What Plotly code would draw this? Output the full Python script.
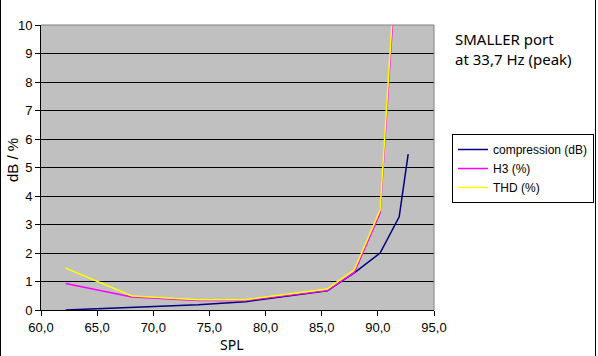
import plotly.graph_objects as go

# Data
spl_comp = [62.2, 68.1, 74.0, 78.2, 85.5, 87.9, 90.2, 91.9, 92.7]
compression_db = [0.0, 0.10, 0.18, 0.29, 0.67, 1.30, 2.00, 3.27, 5.47]

spl_h3 = [62.2, 68.1, 74.0, 78.2, 85.5, 87.9, 90.2, 91.5]
h3_pct = [0.93, 0.46, 0.33, 0.33, 0.68, 1.32, 3.40, 11.2]

spl_thd = [62.2, 68.1, 74.0, 78.2, 85.5, 87.9, 90.2, 91.5]
thd_pct = [1.47, 0.49, 0.36, 0.36, 0.74, 1.41, 3.51, 11.6]

x_ticks = [60, 65, 70, 75, 80, 85, 90, 95]
y_ticks = list(range(0, 11))

fig = go.Figure()
fig.add_trace(go.Scatter(x=spl_comp, y=compression_db, mode="lines",
                         name="compression (dB)", line=dict(color="#000080", width=1.5)))
fig.add_trace(go.Scatter(x=spl_h3, y=h3_pct, mode="lines",
                         name="H3 (%)", line=dict(color="#FF00FF", width=1.5)))
fig.add_trace(go.Scatter(x=spl_thd, y=thd_pct, mode="lines",
                         name="THD (%)", line=dict(color="#FFFF00", width=1.5)))

W, H = 598, 356
L, R, T, B = 41, 164, 25, 46
pw, ph = W - L - R, H - T - B

def px_x(px):
    return (px - L) / pw

def px_y(py):
    return (H - B - py) / ph

fig.update_layout(
    width=W, height=H,
    margin=dict(l=L, r=R, t=T, b=B, pad=0, autoexpand=False),
    paper_bgcolor="white",
    plot_bgcolor="#C0C0C0",
    separators=",.",
    font=dict(family="Liberation Sans, Arial, sans-serif", size=12, color="black"),
    showlegend=True,
    legend=dict(
        x=px_x(452), y=px_y(134), xanchor="left", yanchor="top",
        bgcolor="white", bordercolor="black", borderwidth=1,
        font=dict(family="Liberation Sans, Arial, sans-serif", size=12),
        itemwidth=30, tracegroupgap=0,
    ),
    xaxis=dict(
        range=[60, 95], tickvals=x_ticks, tickformat=".1f",
        showgrid=False, zeroline=False, automargin=False,
        showline=True, linecolor="black", linewidth=1,
        ticks="outside", ticklen=5, tickcolor="black",
        tickfont=dict(size=13),
    ),
    yaxis=dict(
        range=[0, 10], tickvals=y_ticks,
        showgrid=True, gridcolor="black", gridwidth=1,
        zeroline=False, automargin=False,
        showline=True, linecolor="black", linewidth=1,
        ticks="outside", ticklen=5, tickcolor="black",
        tickfont=dict(size=13),
    ),
    annotations=[
        dict(text="SMALLER port<br>at 33,7 Hz (peak)", xref="paper", yref="paper",
             x=px_x(453), y=px_y(27), xanchor="left", yanchor="top", align="left",
             showarrow=False,
             font=dict(family="Noto Sans, sans-serif", size=15, color="black")),
        dict(text="SPL", xref="paper", yref="paper",
             x=px_x(232), y=px_y(344), xanchor="center", yanchor="middle",
             showarrow=False,
             font=dict(family="Noto Sans, sans-serif", size=14, color="black")),
        dict(text="dB / %", xref="paper", yref="paper",
             x=px_x(12), y=px_y(160), xanchor="center", yanchor="middle",
             textangle=-90, showarrow=False,
             font=dict(family="Liberation Sans, Arial, sans-serif", size=15, color="black")),
    ],
    shapes=[
        # plot-area top and right borders (gray)
        dict(type="line", xref="paper", yref="paper", x0=0, x1=1, y0=1, y1=1,
             line=dict(color="#808080", width=1), layer="above"),
        dict(type="line", xref="paper", yref="paper", x0=1, x1=1, y0=0, y1=1,
             line=dict(color="#808080", width=1), layer="above"),
        # outer frame lines (left and right)
        dict(type="line", xref="paper", yref="paper", x0=px_x(0.5), x1=px_x(0.5),
             y0=px_y(0), y1=px_y(356), line=dict(color="black", width=1)),
        dict(type="line", xref="paper", yref="paper", x0=px_x(595.5), x1=px_x(595.5),
             y0=px_y(0), y1=px_y(356), line=dict(color="black", width=1)),
    ],
)

fig.write_html("out.html",
               config={"displayModeBar": False},
               post_script="document.body.style.margin='0';document.body.style.overflow='hidden';")
